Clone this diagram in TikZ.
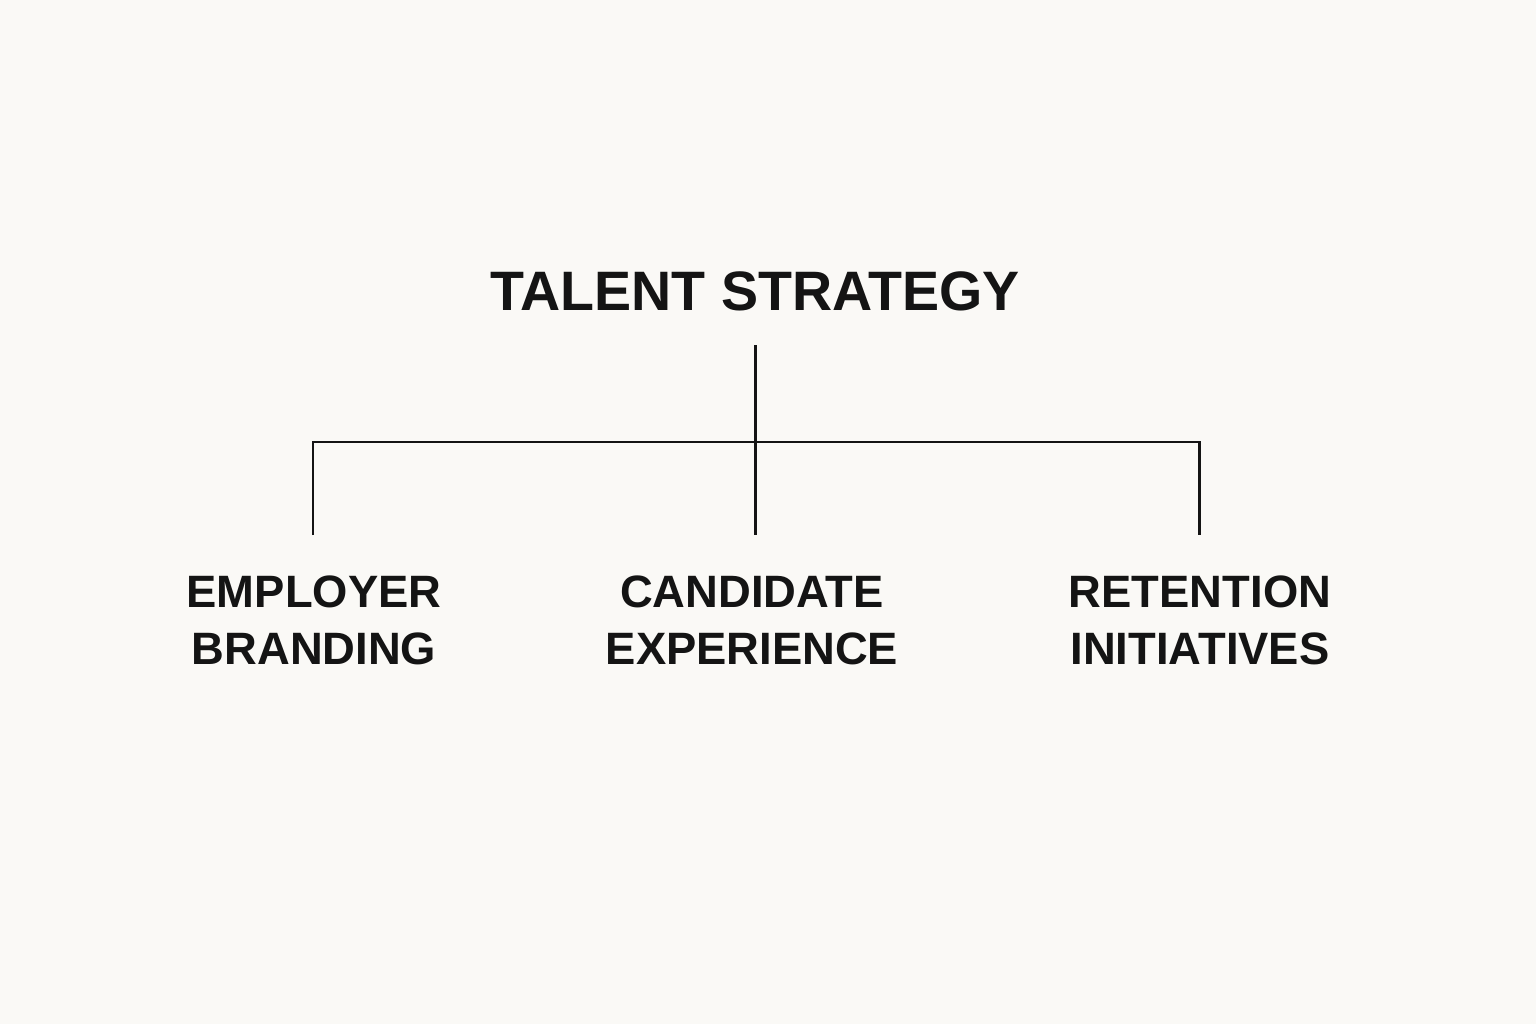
\documentclass[tikz,border=0pt]{standalone}
\usepackage{fontspec}
\setmainfont{Liberation Sans}
\usetikzlibrary{positioning}
\definecolor{paper}{HTML}{FAF9F6}
\definecolor{ink}{HTML}{141414}

\begin{document}
\begin{tikzpicture}[x=0.01cm,y=-0.01cm,line width=0.85pt,
  head/.style={font=\bfseries\fontsize{15.8}{18}\selectfont,text=ink,inner sep=0pt,anchor=base},
  leaf/.style={font=\bfseries\fontsize{12.9}{16}\selectfont,text=ink,align=center,inner sep=0pt,anchor=base}]
\fill[paper] (0,0) rectangle (1536,1024);
\node[head] (talent) at (755,310) {TALENT STRATEGY};
\node[leaf] (employer) at (314,664) {EMPLOYER\\BRANDING};
\node[leaf] (candidate) at (752,664) {CANDIDATE\\EXPERIENCE};
\node[leaf] (retention) at (1200,664) {RETENTION\\INITIATIVES};
\coordinate (stem) at (755,345);
\coordinate (hub) at (755,442);
\coordinate (bl) at (313,442);
\coordinate (br) at (1199,442);
\coordinate (el) at (313,535);
\coordinate (ec) at (755,535);
\coordinate (er) at (1199,535);
\draw[ink] (stem) -- (ec);
\draw[ink] (el) -- (bl) -- (br) -- (er);
\end{tikzpicture}
\end{document}
